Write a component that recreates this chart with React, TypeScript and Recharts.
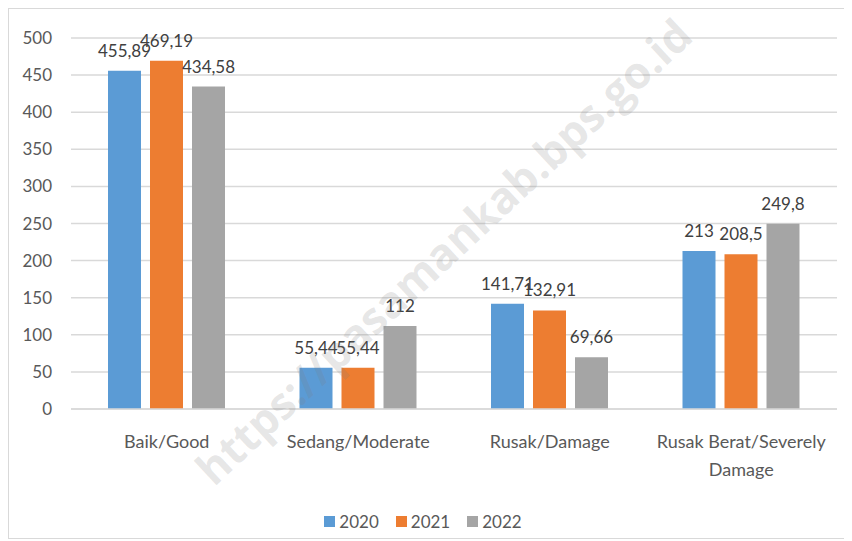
import React from "react"
import { BarChart, Bar, XAxis, YAxis, CartesianGrid, LabelList, Legend, Text } from "recharts"

const categories = ["Baik/Good", "Sedang/Moderate", "Rusak/Damage", "Rusak Berat/Severely Damage"]
const v2020 = [455.89, 55.44, 141.71, 213]
const v2021 = [469.19, 55.44, 132.91, 208.5]
const v2022 = [434.58, 112, 69.66, 249.8]
const yTicks = [0, 50, 100, 150, 200, 250, 300, 350, 400, 450, 500]

const series = [
  { key: "y2020", name: "2020", color: "#5B9BD5" },
  { key: "y2021", name: "2021", color: "#ED7D31" },
  { key: "y2022", name: "2022", color: "#A5A5A5" },
]

const data = categories.map((c, i) => ({ name: c, y2020: v2020[i], y2021: v2021[i], y2022: v2022[i] }))

const FONT = "Lato, 'Open Sans', sans-serif"
const fmt = (v: any) => String(v).replace(".", ",")

function XTick(props: any) {
  const { x, y, payload } = props
  return (
    <Text x={x} y={y} width={185} lineHeight={28} textAnchor="middle" verticalAnchor="start" fill="#595959" fontSize={18} fontFamily={FONT}>
      {payload.value}
    </Text>
  )
}

function LegendBox() {
  return (
    <div style={{ display: "flex", justifyContent: "center", gap: 17, fontFamily: FONT, fontSize: 17, color: "#595959" }}>
      {series.map((s) => (
        <div key={s.key} style={{ display: "flex", alignItems: "center" }}>
          <span style={{ width: 11, height: 11, background: s.color, marginRight: 4, display: "inline-block" }} />
          {s.name}
        </div>
      ))}
    </div>
  )
}

export default function App() {
  return (
    <div style={{ position: "relative", width: 842, height: 529, border: "1px solid #d9d9d9", background: "#fff" }}>
      <BarChart
        width={842}
        height={529}
        data={data}
        margin={{ top: 29, right: 14, left: 0, bottom: 6 }}
        barGap={9}
        barCategoryGap="19%"
      >
        <CartesianGrid vertical={false} stroke="#d9d9d9" strokeWidth={1.5} />
        <XAxis
          dataKey="name"
          axisLine={{ stroke: "#d9d9d9", strokeWidth: 1.5 }}
          tickLine={false}
          tick={<XTick />}
          tickMargin={20}
          height={102}
          interval={0}
        />
        <YAxis
          domain={[0, 500]}
          ticks={yTicks}
          width={62}
          axisLine={false}
          tickLine={false}
          tickMargin={13}
          tick={{ fill: "#595959", fontSize: 17, fontFamily: FONT }}
        />
        {series.map((s) => (
          <Bar key={s.key} dataKey={s.key} name={s.name} fill={s.color} barSize={33} isAnimationActive={false}>
            <LabelList dataKey={s.key} position="top" offset={14} formatter={fmt} fill="#404040" fontSize={17} fontFamily={FONT} />
          </Bar>
        ))}
        <Legend verticalAlign="bottom" content={<LegendBox />} />
      </BarChart>
      <svg width={842} height={529} style={{ position: "absolute", left: 0, top: 0, pointerEvents: "none" }}>
        <text
          x={436}
          y={258}
          transform="rotate(-43 436 244)"
          textAnchor="middle"
          fontFamily="'Open Sans', sans-serif"
          fontWeight="bold"
          fontSize={44}
          fill="#808080"
          fillOpacity={0.2}
        >
          https://pasamankab.bps.go.id
        </text>
      </svg>
    </div>
  )
}
